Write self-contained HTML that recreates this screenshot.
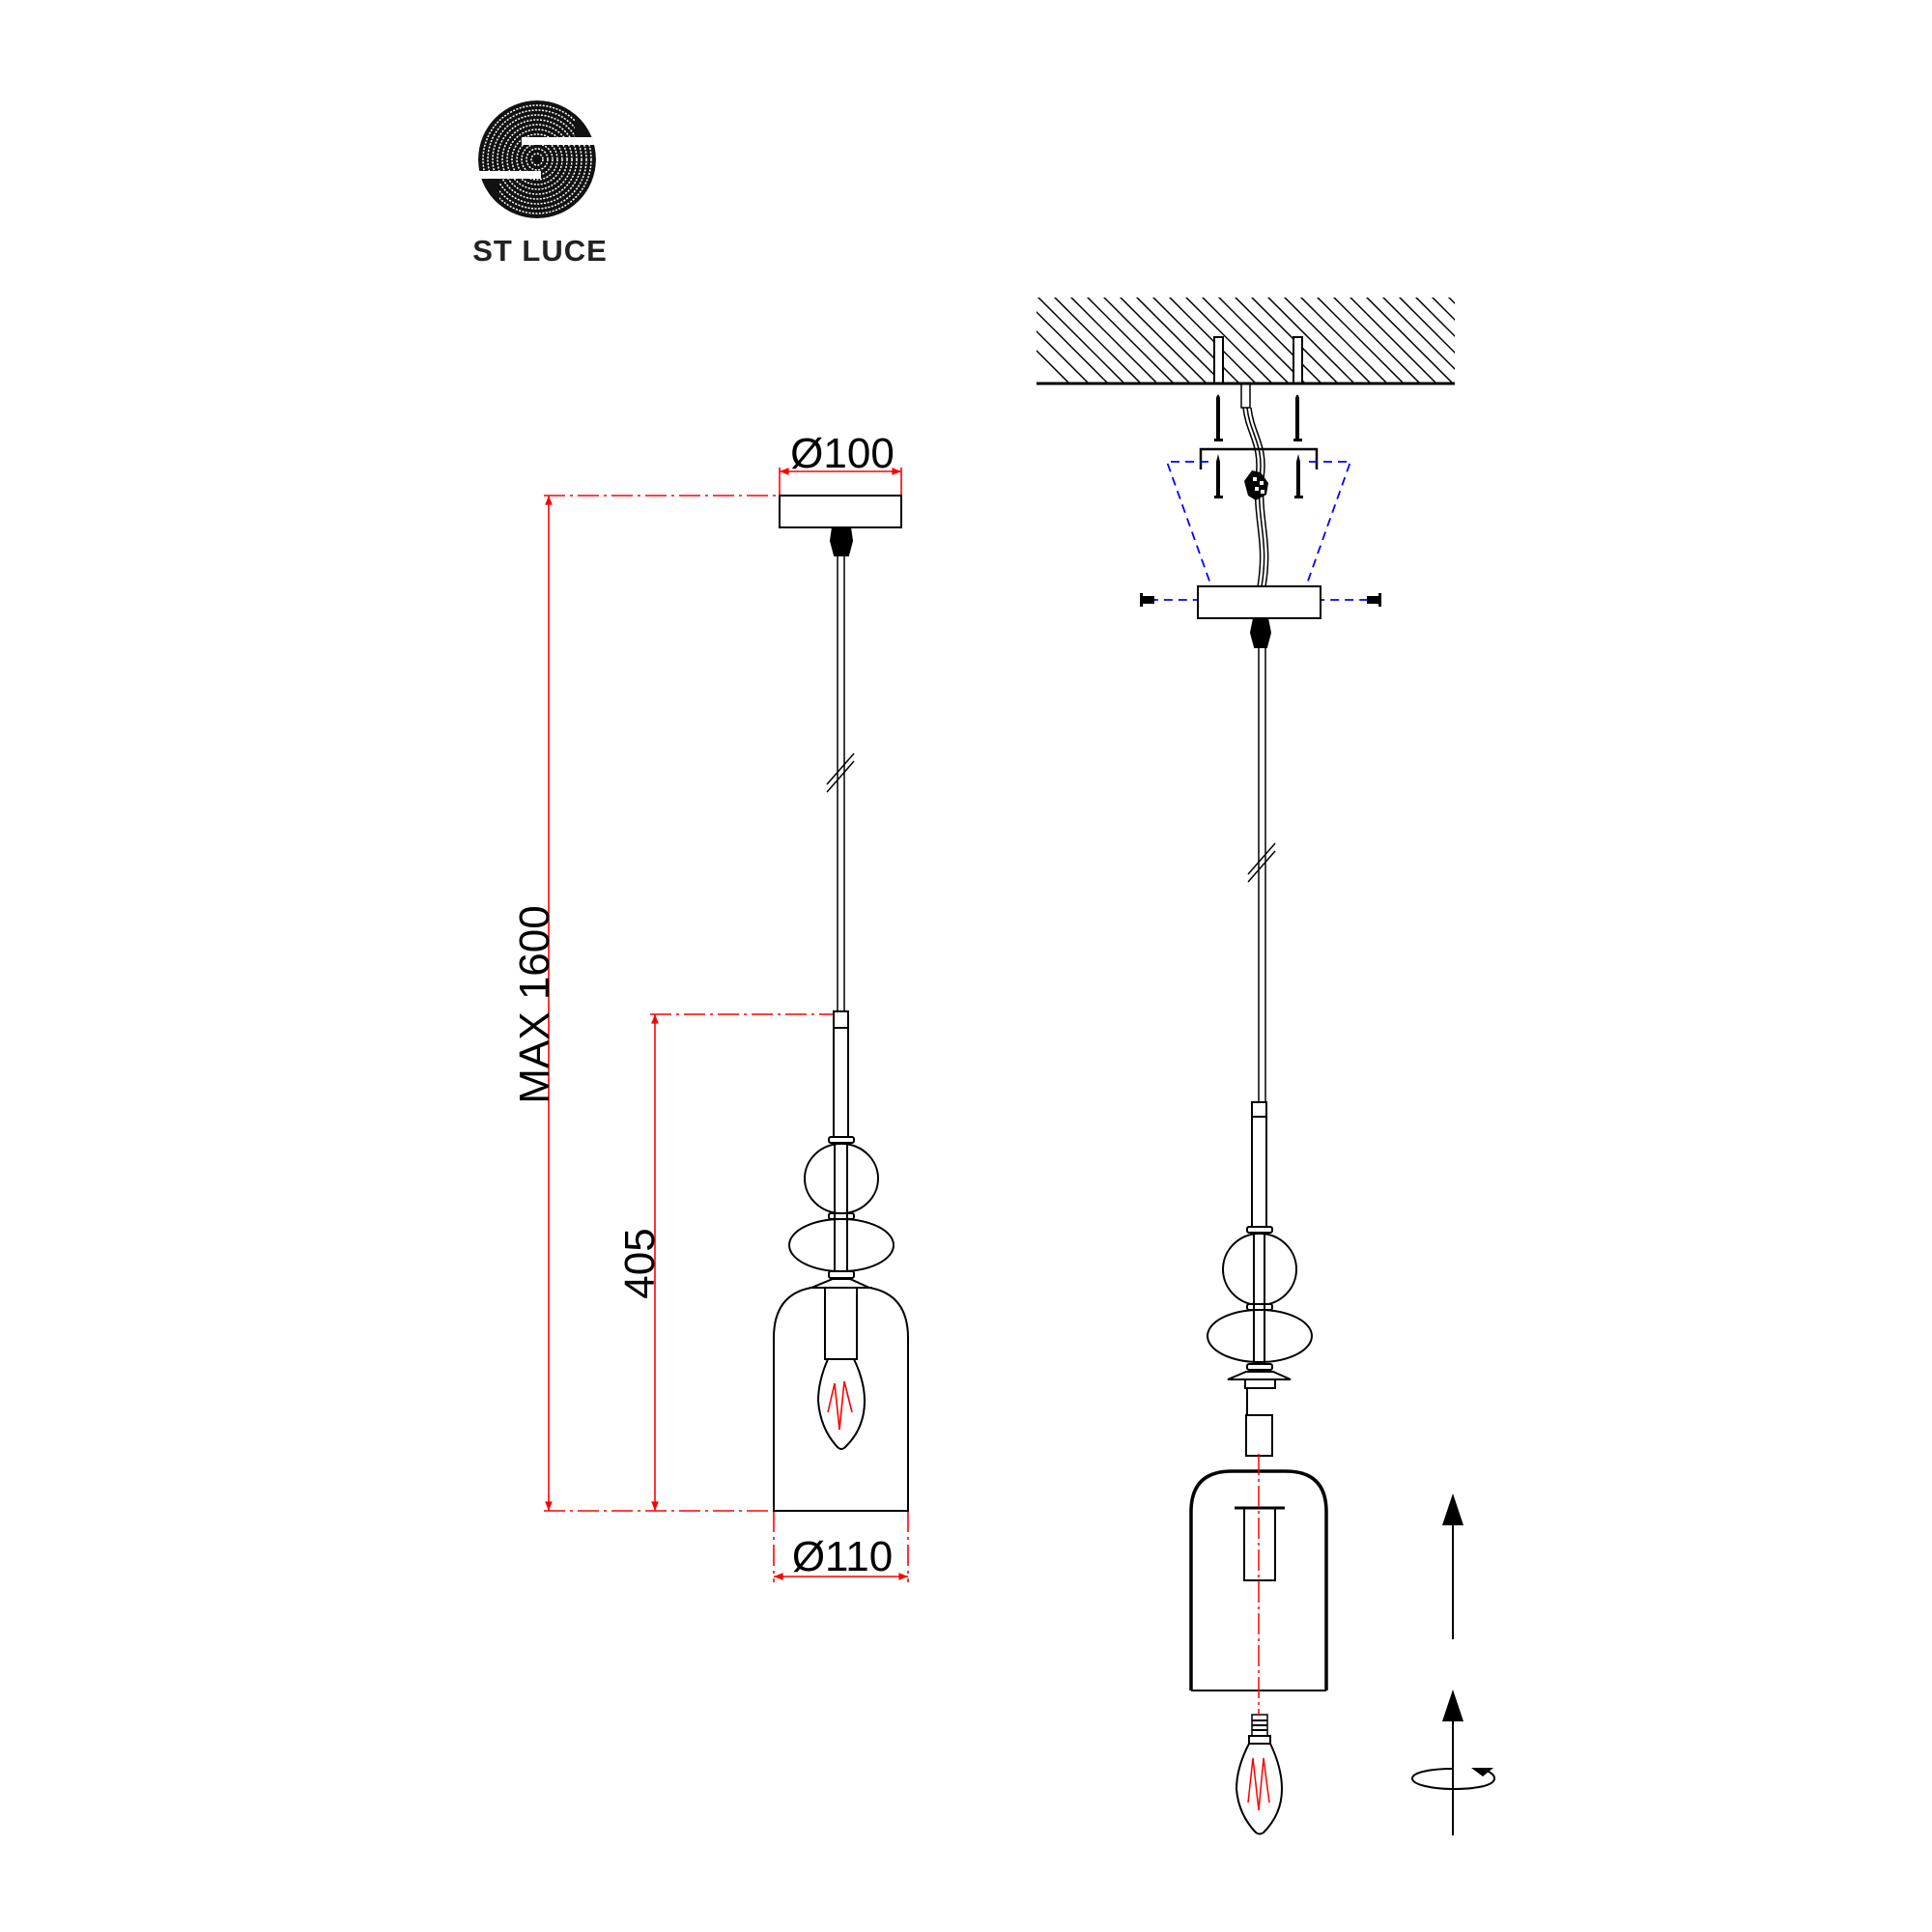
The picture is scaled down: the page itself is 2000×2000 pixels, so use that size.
<!DOCTYPE html>
<html><head><meta charset="utf-8"><style>html,body{margin:0;padding:0;background:#fff}svg{display:block}</style></head>
<body>
<svg width="2000" height="2000" viewBox="0 0 2000 2000" xmlns="http://www.w3.org/2000/svg" font-family="Liberation Sans, sans-serif">
<defs>
<clipPath id="cc"><circle cx="556" cy="165" r="61"/></clipPath>
<clipPath id="hatch"><rect x="1073" y="308" width="433" height="89"/></clipPath>
<marker id="ar" viewBox="0 0 10 10" refX="10" refY="5" markerWidth="10" markerHeight="6" orient="auto-start-reverse"><path d="M0,1 L10,5 L0,9z" fill="red"/></marker>
</defs>
<!-- Logo -->
<g clip-path="url(#cc)">
<circle cx="556" cy="165" r="61" fill="#111"/>
<g fill="none" stroke="#fff" stroke-width="1.5" stroke-dasharray="2 1.5">
<circle cx="556" cy="165" r="6"/><circle cx="556" cy="165" r="11"/><circle cx="556" cy="165" r="16"/><circle cx="556" cy="165" r="21"/><circle cx="556" cy="165" r="26"/><circle cx="556" cy="165" r="31"/><circle cx="556" cy="165" r="36"/><circle cx="556" cy="165" r="41"/><circle cx="556" cy="165" r="46"/><circle cx="556" cy="165" r="51"/><circle cx="556" cy="165" r="56"/>
</g>
<rect x="595" y="104" width="30" height="38" fill="#111"/>
<rect x="487" y="185" width="30" height="45" fill="#111"/>
<rect x="540" y="142" width="80" height="8" fill="#fff"/>
<rect x="490" y="177" width="70" height="8" fill="#fff"/>
</g>
<text x="559" y="270" font-size="31" font-weight="bold" text-anchor="middle" letter-spacing="1" fill="#222">ST LUCE</text>

<!-- LEFT FIXTURE -->
<g stroke="red" stroke-width="1.6" fill="none">
<line x1="563" y1="513" x2="807" y2="513" stroke-dasharray="22 5 3 5"/>
<line x1="563" y1="1564" x2="801" y2="1564" stroke-dasharray="22 5 3 5"/>
<line x1="673" y1="1050" x2="863" y2="1050" stroke-dasharray="22 5 3 5"/>
<line x1="568" y1="513" x2="568" y2="1564" marker-start="url(#ar)" marker-end="url(#ar)"/>
<line x1="678" y1="1050" x2="678" y2="1564" marker-start="url(#ar)" marker-end="url(#ar)"/>
<line x1="807" y1="484" x2="807" y2="513"/><line x1="933" y1="484" x2="933" y2="513"/>
<line x1="807" y1="488" x2="933" y2="488" marker-start="url(#ar)" marker-end="url(#ar)"/>
<line x1="801" y1="1564" x2="801" y2="1638" stroke-dasharray="22 5 3 5"/><line x1="940" y1="1564" x2="940" y2="1638" stroke-dasharray="22 5 3 5"/>
<line x1="801" y1="1632" x2="940" y2="1632" marker-start="url(#ar)" marker-end="url(#ar)"/>
</g>
<text x="872" y="484" font-size="44" text-anchor="middle">Ø100</text>
<text x="872" y="1626" font-size="44" text-anchor="middle">Ø110</text>
<text transform="translate(568,1040) rotate(-90)" font-size="44" text-anchor="middle">MAX 1600</text>
<text transform="translate(677,1308) rotate(-90)" font-size="44" text-anchor="middle">405</text>

<g stroke="#000" stroke-width="2" fill="none">
<rect x="807" y="513" width="126" height="33" fill="#fff"/>
<path d="M862,546 H880 L882,560 L878,575 H864 L860,560z" fill="#000"/>
<line x1="867" y1="575" x2="867" y2="1047" stroke-width="1.5"/><line x1="874" y1="575" x2="874" y2="1047" stroke-width="1.5"/>
<line x1="856" y1="812" x2="884" y2="780" stroke-width="1.5"/><line x1="856" y1="820" x2="884" y2="788" stroke-width="1.5"/>
<rect x="863" y="1047" width="15" height="17"/>
<line x1="863" y1="1064" x2="863" y2="1177"/><line x1="878" y1="1064" x2="878" y2="1177"/>
<ellipse cx="871" cy="1220" rx="38" ry="36"/>
<ellipse cx="871" cy="1289" rx="54" ry="27"/>
<rect x="858" y="1177" width="26" height="6" rx="2" fill="#fff"/>
<rect x="858" y="1256" width="26" height="6" rx="2" fill="#fff"/>
<rect x="858" y="1316" width="26" height="7" rx="2" fill="#fff"/>
<line x1="864" y1="1183" x2="864" y2="1316"/><line x1="877" y1="1183" x2="877" y2="1316"/>
<path d="M801,1564 V1385 Q801,1340 840,1333 L862,1324 H880 L900,1333 Q940,1340 940,1385 V1564z" fill="#fff"/>
<line x1="838" y1="1333" x2="903" y2="1333"/>
<rect x="854" y="1333" width="33" height="74" fill="#fff"/>
<path d="M857,1407 Q847,1430 847,1450 Q849,1478 866,1497 Q871,1503 876,1497 Q895,1478 895,1450 Q895,1430 884,1407z"/>
<line x1="801" y1="1564" x2="940" y2="1564"/>
</g>
<polyline points="857,1462 864,1432 869,1480 874,1430 882,1462" fill="none" stroke="red" stroke-width="1.6"/>

<!-- RIGHT FIXTURE -->
<g clip-path="url(#hatch)" stroke="#000" stroke-width="1.5">
<line x1="1040" y1="290" x2="1160" y2="410"/><line x1="1057" y1="290" x2="1177" y2="410"/><line x1="1074" y1="290" x2="1194" y2="410"/><line x1="1091" y1="290" x2="1211" y2="410"/><line x1="1108" y1="290" x2="1228" y2="410"/><line x1="1125" y1="290" x2="1245" y2="410"/><line x1="1142" y1="290" x2="1262" y2="410"/><line x1="1159" y1="290" x2="1279" y2="410"/><line x1="1176" y1="290" x2="1296" y2="410"/><line x1="1193" y1="290" x2="1313" y2="410"/><line x1="1210" y1="290" x2="1330" y2="410"/><line x1="1227" y1="290" x2="1347" y2="410"/><line x1="1244" y1="290" x2="1364" y2="410"/><line x1="1261" y1="290" x2="1381" y2="410"/><line x1="1278" y1="290" x2="1398" y2="410"/><line x1="1295" y1="290" x2="1415" y2="410"/><line x1="1312" y1="290" x2="1432" y2="410"/><line x1="1329" y1="290" x2="1449" y2="410"/><line x1="1346" y1="290" x2="1466" y2="410"/><line x1="1363" y1="290" x2="1483" y2="410"/><line x1="1380" y1="290" x2="1500" y2="410"/><line x1="1397" y1="290" x2="1517" y2="410"/><line x1="1414" y1="290" x2="1534" y2="410"/><line x1="1431" y1="290" x2="1551" y2="410"/><line x1="1448" y1="290" x2="1568" y2="410"/><line x1="1465" y1="290" x2="1585" y2="410"/><line x1="1482" y1="290" x2="1602" y2="410"/><line x1="1499" y1="290" x2="1619" y2="410"/><line x1="1000" y1="290" x2="1120" y2="410"/><line x1="1020" y1="290" x2="1140" y2="410"/>
</g>
<g stroke="#000" stroke-width="2" fill="#fff">
<rect x="1257" y="349" width="9" height="48"/><rect x="1339" y="349" width="9" height="48"/>
</g>
<line x1="1073" y1="397" x2="1506" y2="397" stroke="#000" stroke-width="3"/>
<g stroke="#000" stroke-width="1.5" fill="none">
<rect x="1285" y="397" width="9" height="25"/>
<path d="M1287,422 C1290,450 1305,460 1300,495 C1297,540 1310,560 1302,607"/>
<path d="M1291,422 C1294,450 1309,460 1304,495 C1301,540 1314,560 1306,607"/>
<path d="M1295,422 C1298,450 1313,460 1308,495 C1305,540 1318,560 1310,607"/>
</g>
<g fill="#000">
<path d="M1257,457 H1266 V454 H1263 V412 Q1261,405 1259,412 V454 H1257z"/>
<path d="M1339,457 H1348 V454 H1345 V412 Q1343,405 1341,412 V454 H1339z"/>
<path d="M1257,516 H1266 V513 H1263 V478 L1261,470 L1259,478 V513 H1257z"/>
<path d="M1340,516 H1349 V513 H1346 V478 L1344,470 L1342,478 V513 H1340z"/>
<path d="M1288,498 L1296,487 L1305,489 L1313,500 L1311,512 L1300,518 L1292,513z"/>
</g>
<g fill="#fff"><rect x="1297" y="494" width="4" height="4"/><rect x="1304" y="498" width="4" height="4"/><rect x="1299" y="504" width="4" height="4"/><rect x="1305" y="507" width="4" height="4"/></g>
<polyline points="1243,486 1243,465 1363,465 1363,486" fill="none" stroke="#000" stroke-width="2.5"/>
<g stroke="#00f" stroke-width="1.8" fill="none" stroke-dasharray="9 6">
<polyline points="1251,478 1208,478 1259,621 1195,621"/>
<polyline points="1355,478 1398,478 1347,621 1415,621"/>
</g>
<g fill="#000"><rect x="1181" y="617" width="14" height="8"/><rect x="1180" y="614" width="3" height="14"/><rect x="1415" y="617" width="14" height="8"/><rect x="1427" y="614" width="3" height="14"/></g>
<g stroke="#000" stroke-width="2" fill="none">
<rect x="1240" y="607" width="127" height="33" fill="#fff"/>
<path d="M1298,640 H1312 L1315,655 L1311,670 H1299 L1295,655z" fill="#000"/>
<line x1="1303" y1="670" x2="1303" y2="1141" stroke-width="1.5"/><line x1="1310" y1="670" x2="1310" y2="1141" stroke-width="1.5"/>
<line x1="1292" y1="905" x2="1320" y2="873" stroke-width="1.5"/><line x1="1292" y1="913" x2="1320" y2="881" stroke-width="1.5"/>
<rect x="1296" y="1141" width="15" height="15"/>
<line x1="1296" y1="1156" x2="1296" y2="1270"/><line x1="1311" y1="1156" x2="1311" y2="1270"/>
<rect x="1291" y="1270" width="26" height="6" rx="2"/>
<ellipse cx="1304" cy="1314" rx="38" ry="37"/>
<ellipse cx="1304" cy="1383" rx="54" ry="27"/>
<rect x="1291" y="1350" width="26" height="6" rx="2" fill="#fff"/>
<rect x="1291" y="1412" width="26" height="6" rx="2" fill="#fff"/>
<line x1="1298" y1="1276" x2="1298" y2="1412"/><line x1="1309" y1="1276" x2="1309" y2="1412"/>
<path d="M1271,1428 L1290,1420 H1318 L1336,1428z" fill="#fff"/>
<rect x="1289" y="1428" width="31" height="9" fill="#fff"/>
<line x1="1291" y1="1437" x2="1291" y2="1465"/>
<rect x="1290" y="1465" width="27" height="42"/>
<path d="M1233,1750 V1565 Q1233,1523 1275,1523 H1331 Q1373,1523 1373,1565 V1750" stroke-width="3.5"/>
<line x1="1233" y1="1750" x2="1373" y2="1750"/>
<line x1="1278" y1="1561" x2="1330" y2="1561" stroke-width="3"/>
<rect x="1288" y="1561" width="32" height="75"/>
<rect x="1296" y="1775" width="16" height="22" stroke-width="1.5"/>
<path d="M1296,1781 H1312 M1296,1786 H1312 M1296,1791 H1312" stroke-width="2"/>
<rect x="1293" y="1797" width="22" height="8"/>
<path d="M1293,1805 Q1280,1830 1280,1852 Q1282,1878 1300,1897 Q1304,1900 1308,1897 Q1327,1878 1327,1852 Q1327,1830 1315,1805"/>
</g>
<line x1="1303" y1="1505" x2="1303" y2="1775" stroke="red" stroke-width="1.5" stroke-dasharray="22 4 3 4"/>
<polyline points="1292,1866 1297,1820 1303,1874 1308,1820 1314,1866" fill="none" stroke="red" stroke-width="1.5"/>
<g stroke="#000" stroke-width="2" fill="none">
<line x1="1504" y1="1575" x2="1504" y2="1697"/>
<line x1="1504" y1="1778" x2="1504" y2="1900"/>
<path d="M1504,1831 C1480,1831 1462,1835 1462,1841 C1462,1848 1485,1852 1504,1852 C1530,1852 1547,1848 1547,1841 C1547,1836 1540,1833 1534,1832"/>
</g>
<path d="M1504,1546 L1515,1579 H1493z" fill="#000"/>
<path d="M1504,1749 L1515,1782 H1493z" fill="#000"/>
<path d="M1523,1830 L1546,1830 L1535,1839z" fill="#000"/>
</svg>
</body></html>
